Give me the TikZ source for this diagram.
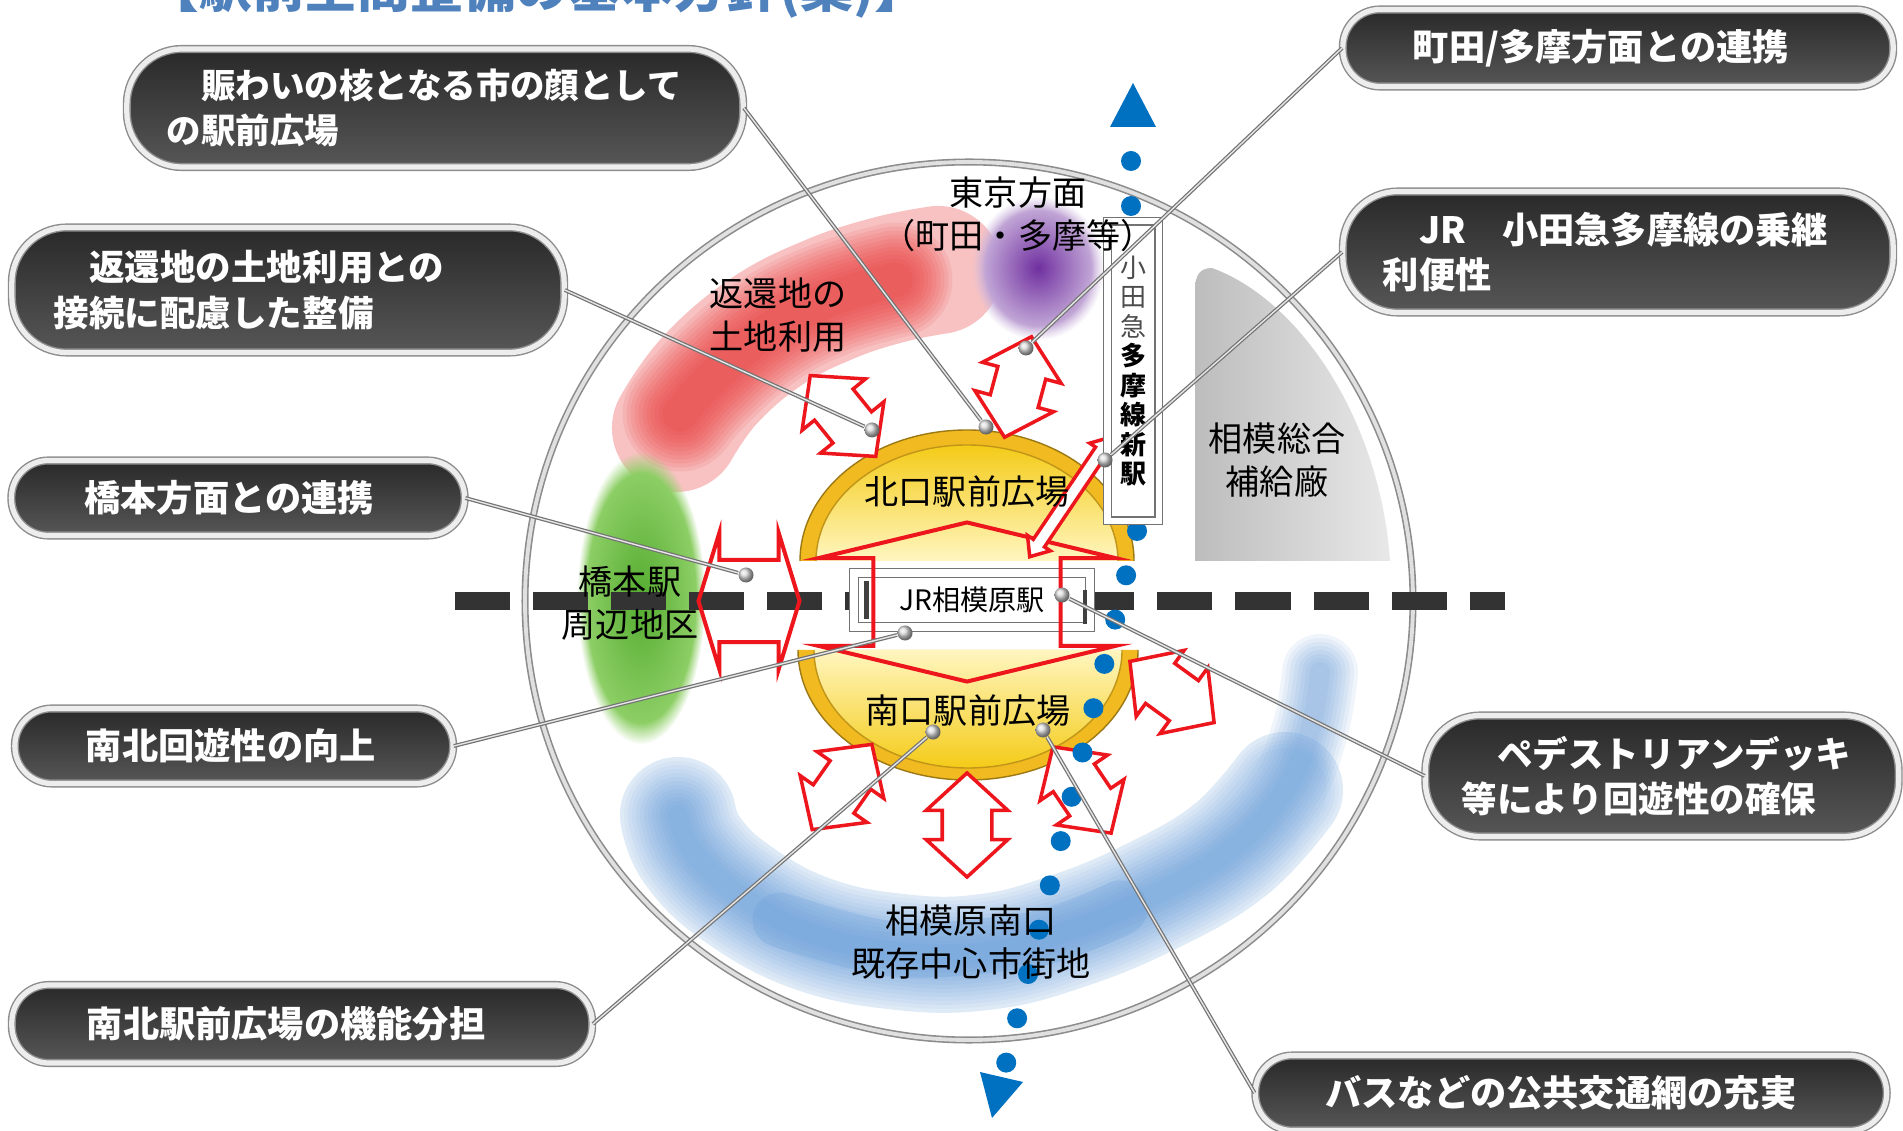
\documentclass[tikz,border=0pt]{standalone}
\usepackage{fontspec}
\setmainfont{Noto Sans CJK JP}
\usetikzlibrary{positioning, shapes.arrows, fadings}

\definecolor{railblue}{RGB}{0,112,192}
\definecolor{flowred}{RGB}{236,22,28}
\definecolor{plazagold}{RGB}{240,186,32}
\definecolor{plazapale}{RGB}{255,246,192}
\definecolor{headblue}{RGB}{79,129,189}
\definecolor{returnred}{RGB}{235,55,55}
\definecolor{southblue}{RGB}{96,152,216}
\definecolor{hashigreen}{RGB}{84,172,48}
\definecolor{hashilight}{RGB}{150,212,110}
\definecolor{tokyopurple}{RGB}{112,48,160}

\tikzstyle{bubble} = [rectangle, rounded corners=0.37cm, draw=black!45, line width=0.4pt,
  double=black!7, double distance=1.5pt, top color=black!84, bottom color=black!66,
  text=white, font=\bfseries\fontsize{10.3}{12.9}\selectfont, align=left, inner ysep=0pt]
\tikzstyle{bubble2} = [bubble, rounded corners=0.55cm]
\tikzstyle{place} = [font=\fontsize{9.7}{12.2}\selectfont, align=center, inner sep=0pt]
\tikzstyle{knob} = [circle, inner sep=0pt, minimum size=0.15cm, shading=ball, ball color=black!15]
\tikzstyle{leader} = [draw=black!55, line width=0.35pt, double=black!10, double distance=0.4pt]
\tikzstyle{flow} = [double arrow, draw=flowred, line width=0.035cm, fill=white, inner xsep=0pt,
  inner ysep=0.23cm, minimum height=1.04cm, minimum width=0.78cm, double arrow head extend=0.16cm,
  double arrow tip angle=95]
\tikzstyle{bigflow} = [double arrow, draw=flowred, line width=0.04cm, inner xsep=0pt]
\tikzstyle{stationbox} = [rectangle, draw=black!55, line width=0.4pt, double=white,
  double distance=0.08cm, fill=white, inner sep=0pt]

\begin{document}
\begin{tikzpicture}[x=0.01cm, y=-0.01cm]
\useasboundingbox (0,0) rectangle (1903,1131);
\fill[white] (0,0) rectangle (1903,1131);

\node (TITLE) [anchor=base west, text=headblue, inner sep=0pt,
  font=\bfseries\fontsize{15}{18}\selectfont] at (146,8) {【駅前空間整備の基本方針(案)】};

% surrounding districts
\draw[returnred, opacity=0.3, line width=1.28cm, line cap=round, line join=round]
  plot[smooth, tension=0.7] coordinates {(676,428) (710,380) (766,332) (828,300) (888,280) (938,270)};
\foreach \w in {115,107,...,35}
  \draw[returnred, opacity=0.1, line width=\w*0.01cm, line cap=round, line join=round]
    plot[smooth, tension=0.7] coordinates {(680,414) (710,380) (766,332) (828,300) (895,280)};

\shade[inner color=tokyopurple, outer color=tokyopurple!30, path fading=circle with fuzzy edge 20 percent]
  (1038,268) ellipse [x radius=66, y radius=72];
\shade[inner color=hashigreen, outer color=hashilight, path fading=circle with fuzzy edge 15 percent]
  (641,598) ellipse [x radius=64, y radius=146];

\draw[southblue, opacity=0.2, line width=1.16cm, line cap=round, line join=round]
  plot[smooth, tension=0.7] coordinates {(678,815) (692,850) (735,892) (810,933) (900,952) (985,952)
    (1065,932) (1150,897) (1230,850) (1285,790)};
\foreach \w in {108,100,...,84}
  \draw[southblue, opacity=0.07, line width=\w*0.01cm, line cap=round, line join=round]
    plot[smooth, tension=0.7] coordinates {(678,815) (692,850) (735,892) (810,933) (900,952) (985,952)
      (1065,932) (1150,897) (1230,850) (1285,790)};
\foreach \w in {76,68,...,20}
  \draw[southblue, opacity=0.09, line width=\w*0.01cm, line cap=round, line join=round]
    plot[smooth, tension=0.7] coordinates {(678,815) (692,850) (735,892) (810,933) (900,952) (985,952)
      (1065,932) (1150,897) (1230,850) (1285,790) (1310,730) (1320,672)};
\draw[southblue, opacity=0.22, line width=0.55cm, line cap=round]
  plot[smooth] coordinates {(780,920) (900,950) (1040,938) (1120,908)};

\shade[left color=black!26, right color=black!9] (1195,561) -- (1195,290)
  .. controls (1195,275) and (1200,268) .. (1212,268)
  .. controls (1300,300) and (1380,420) .. (1390,561) -- cycle;

\draw[draw=black!45, line width=0.45pt, double=black!12, double distance=1.1pt]
  (969,601) ellipse [x radius=444, y radius=439];

% JR line
\draw[black!80, line width=0.17cm, dash pattern=on 0.55cm off 0.23cm] (455,601) -- (1505,601);

% station plazas
\fill[plazagold] (800,561) arc[start angle=180, end angle=360, x radius=167, y radius=131] -- cycle;
\shade[top color=plazagold!75!yellow, bottom color=plazapale]
  (816,561) arc[start angle=180, end angle=360, x radius=151, y radius=116] -- cycle;
\draw[plazagold!65!black, line width=0.4pt] (800,561) arc[start angle=180, end angle=360, x radius=167, y radius=131];
\draw[plazagold!80!black, line width=0.4pt] (816,561) arc[start angle=180, end angle=360, x radius=151, y radius=116];

\fill[plazagold] (798,650) arc[start angle=180, end angle=0, x radius=170, y radius=130] -- cycle;
\shade[top color=plazapale, bottom color=plazagold!75!yellow]
  (814,650) arc[start angle=180, end angle=0, x radius=154, y radius=118] -- cycle;
\draw[plazagold!65!black, line width=0.4pt] (798,650) arc[start angle=180, end angle=0, x radius=170, y radius=130];
\draw[plazagold!80!black, line width=0.4pt] (814,650) arc[start angle=180, end angle=0, x radius=154, y radius=118];

\node (JR_STATION) [stationbox, minimum width=2.36cm, minimum height=0.54cm,
  font=\fontsize{8}{9}\selectfont] at (972,600) {JR相模原駅};
\draw[black!75, line width=0.05cm] ([xshift=0.13cm, yshift=0.19cm]JR_STATION.west) -- ([xshift=0.13cm, yshift=-0.19cm]JR_STATION.west);
\draw[black!75, line width=0.04cm] ([xshift=-0.06cm, yshift=0.1cm]JR_STATION.east) -- ([xshift=-0.06cm, yshift=-0.24cm]JR_STATION.east);

% connections
\node (GATE_FLOW) [bigflow, rotate=90, inner ysep=0.915cm, minimum height=1.59cm, minimum width=2.93cm,
  double arrow head extend=0.55cm, double arrow tip angle=153] at (967,602) {};
\node (HASHIMOTO_FLOW) [bigflow, inner ysep=0.39cm, minimum height=1.01cm, minimum width=1.32cm,
  double arrow head extend=0.27cm, double arrow tip angle=146] at (749,601) {};
\node (RETURN_FLOW) [flow, rotate=-51] at (843,416) {};
\node (TOKYO_FLOW) [flow, rotate=75] at (1018,387) {};
\node (EAST_FLOW) [flow, rotate=-36] at (1172,692) {};
\node (SW_FLOW) [flow, rotate=55] at (842,787) {};
\node (S_FLOW) [flow, rotate=90] at (967,825) {};
\node (SE_FLOW) [flow, rotate=-56] at (1082,790) {};
\node (ODAKYU_FLOW) [flow, rotate=56, inner ysep=0.05cm, minimum height=1.44cm, minimum width=0.24cm,
  double arrow head extend=0.07cm, double arrow tip angle=80] at (1070,497) {};

% Odakyu Tama line
\fill[railblue] (1133,83) -- (1156,127) -- (1110,127) -- cycle;
\foreach \y in {161,206,250,294,339,383,427,472}
  \fill[railblue] (1131,\y) circle [radius=10];
\foreach \k in {0,...,12}
  \fill[railblue] ({1137-0.246*44.3*\k}, {531+44.3*\k}) circle [radius=10];
\fill[railblue] (992,1118) -- (980,1072) -- (1023,1082) -- cycle;

\node (ODAKYU_STATION) [stationbox, double distance=0.06cm, minimum width=0.51cm, minimum height=2.99cm,
  font=\fontsize{7.4}{8.4}\selectfont, align=center] at (1133,371)
  {{\color{black!70}小}\\{\color{black!70}田}\\{\color{black!70}急}\\\textbf{多}\\\textbf{摩}\\\textbf{線}\\\textbf{新}\\\textbf{駅}};

\node (TOKYO) [place] at (1018,214) {東京方面\\（町田・多摩等）};
\node (RETURN_LAND) [place] at (778,315) {返還地の\\土地利用};
\node (HASHIMOTO) [place] at (630,603) {橋本駅\\周辺地区};
\node (NORTH_PLAZA) [place] at (967,492) {北口駅前広場};
\node (SOUTH_PLAZA) [place] at (968,711) {南口駅前広場};
\node (SOUTH_TOWN) [place] at (971,942) {相模原南口\\既存中心市街地};
\node (DEPOT) [place] at (1277,460) {相模総合\\補給廠};

% policy callouts
\node (FACE) [bubble2, font=\bfseries\fontsize{9.8}{12.9}\selectfont, text width=5.36cm, inner xsep=0.40cm,
  minimum height=1.18cm] at (435,108) {　賑わいの核となる市の顔として\\の駅前広場};
\node (RETURN_LINK) [bubble2, font=\bfseries\fontsize{10.1}{12.9}\selectfont, text width=4.68cm, inner xsep=0.42cm,
  minimum height=1.25cm] at (288,290) {　返還地の土地利用との\\接続に配慮した整備};
\node (HASHIMOTO_LINK) [bubble, text width=3.07cm, inner xsep=0.73cm, minimum height=0.75cm] at (238,498)
  {橋本方面との連携};
\node (LOOP) [bubble, text width=2.96cm, inner xsep=0.71cm, minimum height=0.75cm] at (234,746)
  {南北回遊性の向上};
\node (ROLE) [bubble, text width=4.30cm, inner xsep=0.75cm, minimum height=0.78cm] at (302,1024)
  {南北駅前広場の機能分担};
\node (MACHIDA_LINK) [bubble, text width=4.10cm, inner xsep=0.70cm, minimum height=0.77cm] at (1618,48)
  {町田/多摩方面との連携};
\node (TRANSFER) [bubble2, text width=4.70cm, inner xsep=0.40cm, minimum height=1.21cm] at (1618,252)
  {　JR　小田急多摩線の乗継\\利便性};
\node (DECK) [bubble2, font=\bfseries\fontsize{10.1}{12.9}\selectfont, text width=4.0cm, inner xsep=0.365cm,
  minimum height=1.21cm] at (1662,776) {　ペデストリアンデッキ\\等により回遊性の確保};
\node (BUS) [bubble, text width=4.91cm, inner xsep=0.70cm, minimum height=0.75cm] at (1571,1093)
  {バスなどの公共交通網の充実};

\node (FACE_PIN) [knob] at (986,427) {};
\node (RETURN_PIN) [knob] at (872,430) {};
\node (HASHIMOTO_PIN) [knob] at (746,575) {};
\node (LOOP_PIN) [knob] at (905,633) {};
\node (ROLE_PIN) [knob] at (933,732) {};
\node (MACHIDA_PIN) [knob] at (1026,348) {};
\node (TRANSFER_PIN) [knob] at (1105,460) {};
\node (DECK_PIN) [knob] at (1062,595) {};
\node (BUS_PIN) [knob] at (1043,730) {};

\draw [leader] (FACE.east) -- (FACE_PIN);
\draw [leader] (RETURN_LINK.east) -- (RETURN_PIN);
\draw [leader] (HASHIMOTO_LINK.east) -- (HASHIMOTO_PIN);
\draw [leader] (LOOP.east) -- (LOOP_PIN);
\draw [leader] (ROLE.east) -- (ROLE_PIN);
\draw [leader] (MACHIDA_LINK.west) -- (MACHIDA_PIN);
\draw [leader] (TRANSFER.west) -- (TRANSFER_PIN);
\draw [leader] (DECK.west) -- (DECK_PIN);
\draw [leader] (BUS.west) -- (BUS_PIN);

\end{tikzpicture}
\end{document}
